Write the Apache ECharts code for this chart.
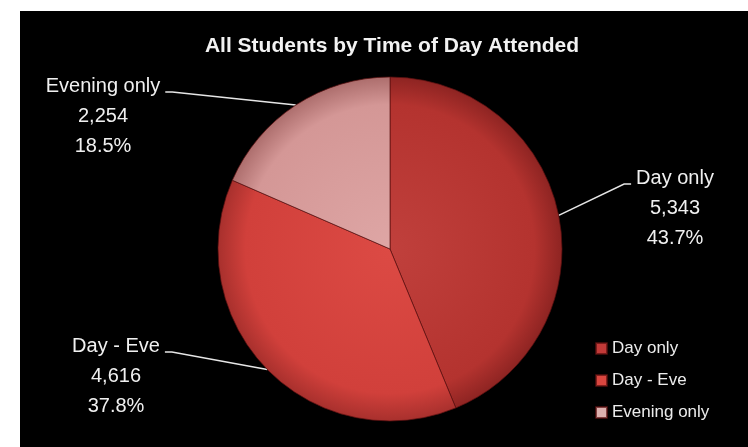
<!DOCTYPE html>
<html>
<head>
<meta charset="utf-8">
<title>All Students by Time of Day Attended</title>
<script src="https://cdn.jsdelivr.net/npm/echarts@6/dist/echarts.min.js"></script>
<style>
  html, body { margin: 0; padding: 0; background: #ffffff; }
  #chart { position: absolute; left: 20px; top: 11px; width: 728px; height: 436px; background: #000000; }
</style>
</head>
<body>
<div id="chart"></div>
<script>
// Enrolment split by time of day attended
const categories = ['Day only', 'Day - Eve', 'Evening only'];
const students = [5343, 4616, 2254];

// Slice shading: [centre, body, rim]
const sliceShades = [
  ['#c0403c', '#b4332f', '#8e2422'],
  ['#dc4a44', '#d1403b', '#a8302d'],
  ['#dea6a5', '#d49796', '#ad6e6d']
];
const legendColors = ['#c23a38', '#d9463f', '#dcb0ae'];

const CX = 370, CY = 238, R = 172;
const LABEL_FONT = 20, LABEL_LH = 30;
const FONT = '"Liberation Sans", Arial, sans-serif';

// Where each label block sits (centre x, top y) and which side its leader enters from
const labelSpots = [
  { x: 655, y: 152, side: 'left' },
  { x: 96, y: 320, side: 'right' },
  { x: 83, y: 60, side: 'right' }
];

const measureCtx = document.createElement('canvas').getContext('2d');
function textWidth(str) {
  measureCtx.font = LABEL_FONT + 'px ' + FONT;
  return measureCtx.measureText(str).width;
}

const chart = echarts.init(document.getElementById('chart'), null, { renderer: 'canvas' });

const pieData = categories.map(function (name, i) {
  return {
    name: name,
    value: students[i],
    itemStyle: {
      color: {
        type: 'radial', x: CX, y: CY, r: R, global: true,
        colorStops: [
          { offset: 0, color: sliceShades[i][0] },
          { offset: 0.84, color: sliceShades[i][1] },
          { offset: 1, color: sliceShades[i][2] }
        ]
      }
    }
  };
});

chart.setOption({
  backgroundColor: '#000000',
  animation: false,
  title: {
    text: 'All Students by Time of Day Attended',
    left: 367,
    top: 20,
    textAlign: 'center',
    textStyle: { color: '#f2f2f2', fontFamily: FONT, fontWeight: 'bold', fontSize: 21 }
  },
  legend: {
    orient: 'vertical',
    left: 570,
    top: 324,
    itemWidth: 11,
    itemHeight: 11,
    itemGap: 15,
    icon: 'rect',
    selectedMode: false,
    data: categories.map(function (name, i) {
      return { name: name, itemStyle: { color: legendColors[i] } };
    }),
    textStyle: { color: '#ececec', fontFamily: FONT, fontSize: 17, lineHeight: 17 }
  },
  series: [{
    type: 'pie',
    center: [CX, CY],
    radius: R,
    startAngle: 90,
    clockwise: true,
    percentPrecision: 1,
    emphasis: { disabled: true },
    data: pieData,
    itemStyle: { borderColor: 'rgba(90,15,15,0.7)', borderWidth: 1 },
    label: {
      show: true,
      position: 'outside',
      color: '#f0f0f0',
      fontFamily: FONT,
      fontSize: LABEL_FONT,
      lineHeight: LABEL_LH,
      align: 'center',
      formatter: function (p) {
        return p.name + '\n' + p.value.toLocaleString('en-US') + '\n' + p.percent.toFixed(1) + '%';
      }
    },
    labelLine: {
      show: true,
      length: 10,
      length2: 10,
      lineStyle: { color: '#e6e6e6', width: 1.5 }
    },
    labelLayout: function (params) {
      const spot = labelSpots[params.dataIndex];
      const start = params.labelLinePoints ? params.labelLinePoints[0] : [CX, CY];
      const half = textWidth(categories[params.dataIndex]) / 2;
      const endY = spot.y + LABEL_LH / 2 + 6;
      const endX = spot.side === 'left' ? spot.x - half - 5 : spot.x + half + 5;
      const kneeX = spot.side === 'left' ? endX - 7 : endX + 7;
      return {
        x: spot.x,
        y: spot.y,
        align: 'center',
        verticalAlign: 'top',
        labelLinePoints: [start, [kneeX, endY], [endX, endY]]
      };
    }
  }]
});
</script>
</body>
</html>
